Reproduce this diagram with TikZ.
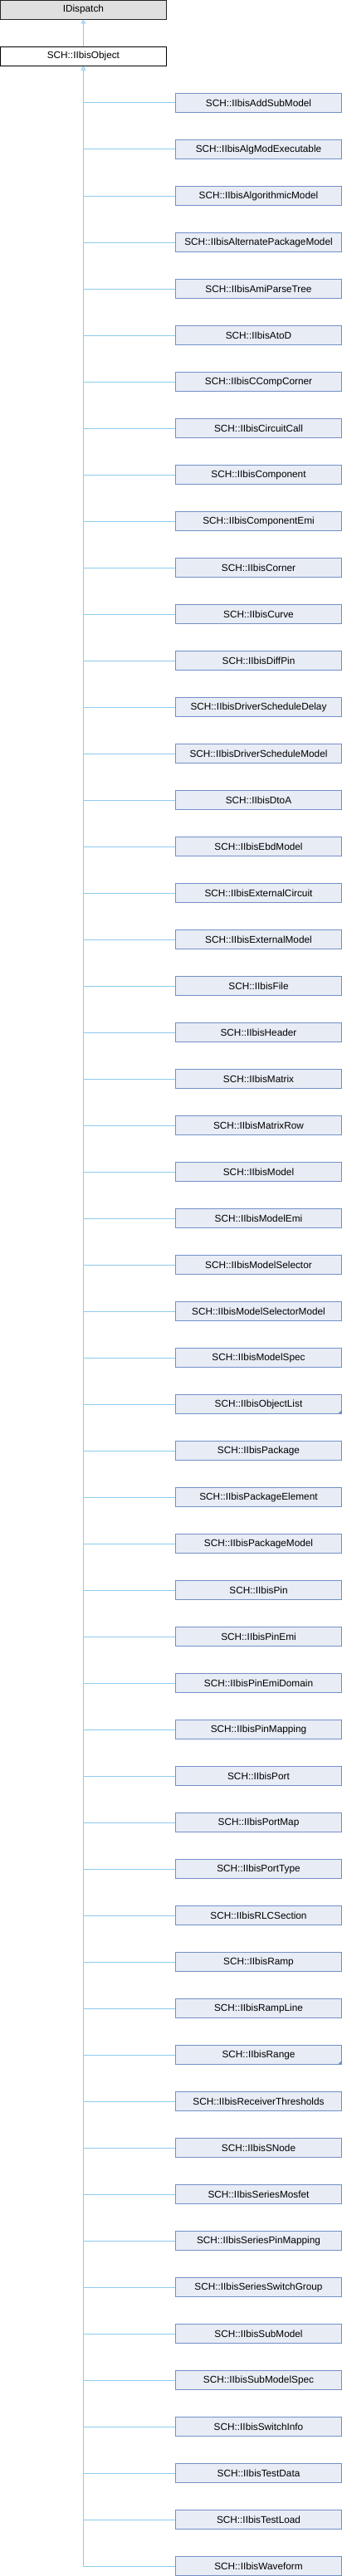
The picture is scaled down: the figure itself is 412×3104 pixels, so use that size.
\documentclass[tikz,border=0pt]{standalone}
\usepackage{fontspec}
\setmainfont{Liberation Sans}
\usetikzlibrary{arrows.meta}
\definecolor{edgec}{HTML}{8DCBEE}
\definecolor{childfill}{HTML}{E8ECF5}
\definecolor{childdraw}{HTML}{7390C8}
\definecolor{grayfill}{HTML}{E0E0E0}
\tikzset{
  x=1pt, y=-1pt,
  box/.style={draw, line width=0.9pt, minimum width=200pt, minimum height=22.6pt, inner sep=0pt, font=\fontsize{11.8}{14}\selectfont, anchor=center},
  rootbox/.style={box, fill=grayfill, draw=black!85},
  objbox/.style={box, fill=white, draw=black},
  childbox/.style={box, fill=childfill, draw=childdraw},
  edge/.style={draw=edgec, line width=1pt},
  inh/.style={edge, -{Triangle[open, length=5pt, width=6pt]}},
  fold/.style={fill=childdraw}
}
\begin{document}
\begin{tikzpicture}
\useasboundingbox (0,0) rectangle (412,3104);
\node[rootbox] (idisp) at (100.4,11.7) {IDispatch};
\node[objbox] (obj) at (100.4,67.8) {SCH::IIbisObject};
\draw[inh] (obj.north) -- (idisp.south);
\foreach \name [count=\i from 0] in {AddSubModel,AlgModExecutable,AlgorithmicModel,AlternatePackageModel,AmiParseTree,AtoD,CCompCorner,CircuitCall,Component,ComponentEmi,Corner,Curve,DiffPin,DriverScheduleDelay,DriverScheduleModel,DtoA,EbdModel,ExternalCircuit,ExternalModel,File,Header,Matrix,MatrixRow,Model,ModelEmi,ModelSelector,ModelSelectorModel,ModelSpec,ObjectList,Package,PackageElement,PackageModel,Pin,PinEmi,PinEmiDomain,PinMapping,Port,PortMap,PortType,RLCSection,Ramp,RampLine,Range,ReceiverThresholds,SNode,SeriesMosfet,SeriesPinMapping,SeriesSwitchGroup,SubModel,SubModelSpec,SwitchInfo,TestData,TestLoad,Waveform}{
  \node[childbox] (c\i) at (311.5,{124+56*\i}) {SCH::IIbis\name};
  \draw[edge] (c\i.west) -- (obj.south |- c\i.west);
}
\draw[inh] (obj.south |- c53.west) -- (obj.south);
\fill[fold] (c28.south east) -- ++(-5,0) -- ++(5,-5) -- cycle;
\fill[fold] (c42.south east) -- ++(-5,0) -- ++(5,-5) -- cycle;
\end{tikzpicture}
\end{document}
